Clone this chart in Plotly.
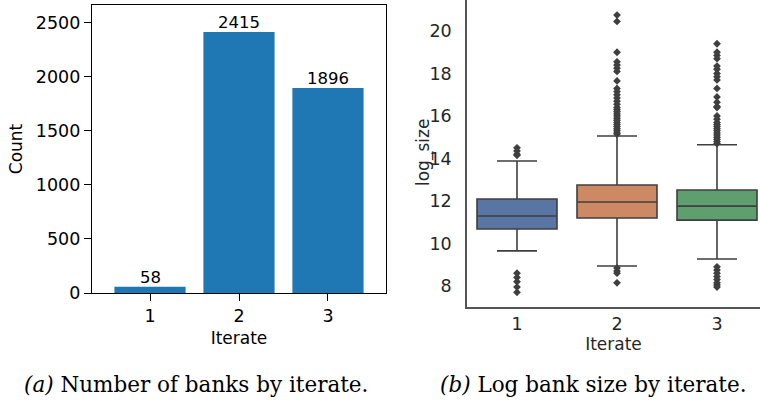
import plotly.graph_objects as go

# ---- data ----
iterates = [1, 2, 3]
bank_counts = [58, 2415, 1896]

q1 = [10.68, 11.20, 11.10]
median = [11.29, 11.95, 11.76]
q3 = [12.09, 12.75, 12.52]
lower_fence = [9.65, 8.94, 9.27]
upper_fence = [13.88, 15.06, 14.65]

outliers_1 = [14.5, 14.35, 14.2, 14.15, 8.6, 8.4, 8.2, 7.95, 7.7]
outliers_2 = [20.75, 20.45, 19.0, 18.55, 18.4, 18.25, 18.1, 17.65, 17.3, 17.15,
              17.0, 16.85, 16.7, 16.55, 16.4, 16.3, 16.2, 16.1, 16.0, 15.9,
              15.8, 15.7, 15.6, 15.5, 15.4, 15.3, 15.2, 15.15,
              8.85, 8.7, 8.6, 8.15]
outliers_3 = [19.4, 19.0, 18.85, 18.7, 18.35, 18.2, 18.0, 17.85, 17.7, 17.3,
              16.9, 16.65, 16.45, 16.4, 16.0, 15.85, 15.7, 15.6, 15.5, 15.4,
              15.3, 15.2, 15.1, 15.0, 14.9, 14.8, 14.7,
              8.9, 8.75, 8.6, 8.45, 8.3, 8.15, 8.05, 7.95]
outliers = [outliers_1, outliers_2, outliers_3]

box_colors = ["#5875a4", "#cc8963", "#5f9e6e"]
line_gray = "#3f3f3f"
W, H = 760, 407

fig = go.Figure()

# ---- left: bar chart ----
fig.add_trace(go.Bar(
    x=iterates, y=bank_counts, width=0.8,
    marker=dict(color="#1f77b4", line=dict(width=0)),
    xaxis="x", yaxis="y", showlegend=False,
))

# ---- right: box plots ----
for i, it in enumerate(iterates):
    fig.add_trace(go.Box(
        x=[it], q1=[q1[i]], median=[median[i]], q3=[q3[i]],
        lowerfence=[lower_fence[i]], upperfence=[upper_fence[i]],
        width=0.8, whiskerwidth=0.5, fillcolor=box_colors[i],
        line=dict(color=line_gray, width=1.6),
        xaxis="x2", yaxis="y2", showlegend=False, boxpoints=False,
    ))
    fig.add_trace(go.Scatter(
        x=[it] * len(outliers[i]), y=outliers[i], mode="markers",
        marker=dict(symbol="diamond", size=6, color=line_gray),
        xaxis="x2", yaxis="y2", showlegend=False,
    ))

tick_font = dict(family="DejaVu Sans", size=17.5, color="black")
lab_font = dict(family="DejaVu Sans", size=17, color="black")
tick_font2 = dict(family="DejaVu Sans", size=17.5, color="#262626")
lab_font2 = dict(family="DejaVu Sans", size=17, color="#262626")

bar_labels = [
    dict(text=str(v), x=it, y=v, xref="x", yref="y", showarrow=False,
         xanchor="center", yanchor="bottom", yshift=-2,
         font=dict(family="DejaVu Sans", size=16.5, color="black"))
    for it, v in zip(iterates, bank_counts)
]

y2_title = [
    dict(text="log_size", x=423 / W, y=1 - 153 / H, xref="paper", yref="paper",
         showarrow=False, textangle=-90, xanchor="center", yanchor="middle",
         font=lab_font2),
]

captions = [
    dict(text="<i>(a)</i> Number of banks by iterate.", x=196 / W, y=1 - 384 / H,
         xref="paper", yref="paper", showarrow=False, xanchor="center", yanchor="middle",
         font=dict(family="DejaVu Serif", size=21.5, color="black")),
    dict(text="<i>(b)</i> Log bank size by iterate.", x=593 / W, y=1 - 384 / H,
         xref="paper", yref="paper", showarrow=False, xanchor="center", yanchor="middle",
         font=dict(family="DejaVu Serif", size=21.5, color="black")),
]

fig.update_layout(
    width=W, height=H,
    margin=dict(l=0, r=0, t=0, b=0),
    paper_bgcolor="white", plot_bgcolor="white",
    xaxis=dict(
        domain=[92 / W, 386 / W], range=[0.348, 3.652], anchor="y", automargin=False,
        tickvals=iterates, ticktext=[str(v) for v in iterates],
        showline=True, mirror=True, linecolor="black", linewidth=1.3,
        ticks="outside", ticklen=7, tickcolor="black", tickwidth=1.2,
        showgrid=False, zeroline=False, tickfont=tick_font,
        title=dict(text="Iterate", font=lab_font, standoff=6),
    ),
    yaxis=dict(
        domain=[1 - 293 / H, 1 - 5 / H], range=[0, 2664], anchor="x", automargin=False,
        tickvals=[0, 500, 1000, 1500, 2000, 2500],
        showline=True, mirror=True, linecolor="black", linewidth=1.3,
        ticks="outside", ticklen=7, tickcolor="black", tickwidth=1.2,
        showgrid=False, zeroline=False, tickfont=tick_font,
        title=dict(text="Count", font=lab_font, standoff=8),
    ),
    xaxis2=dict(
        domain=[467 / W, 1.0], range=[0.5, 3.43], anchor="y2", automargin=False,
        tickvals=iterates, ticktext=[str(v) for v in iterates],
        showline=True, linecolor="#555555", linewidth=1.5,
        ticks="", ticklen=0, ticklabelstandoff=0,
        showgrid=False, zeroline=False, tickfont=tick_font2,
        title=dict(text="Iterate", font=lab_font2, standoff=0),
    ),
    yaxis2=dict(
        domain=[1 - 307 / H, 1.0], range=[7.01, 21.46], anchor="x2", automargin=False,
        tickvals=[8, 10, 12, 14, 16, 18, 20],
        showline=True, linecolor="#555555", linewidth=1.5,
        ticks="", ticklen=0, ticklabelstandoff=10,
        showgrid=False, zeroline=False, tickfont=tick_font2,
    ),
    annotations=bar_labels + y2_title + captions,
)

fig.write_html(
    "out.html",
    config={"displayModeBar": False},
    post_script="document.body.style.margin='0';document.body.style.overflow='hidden';",
)
